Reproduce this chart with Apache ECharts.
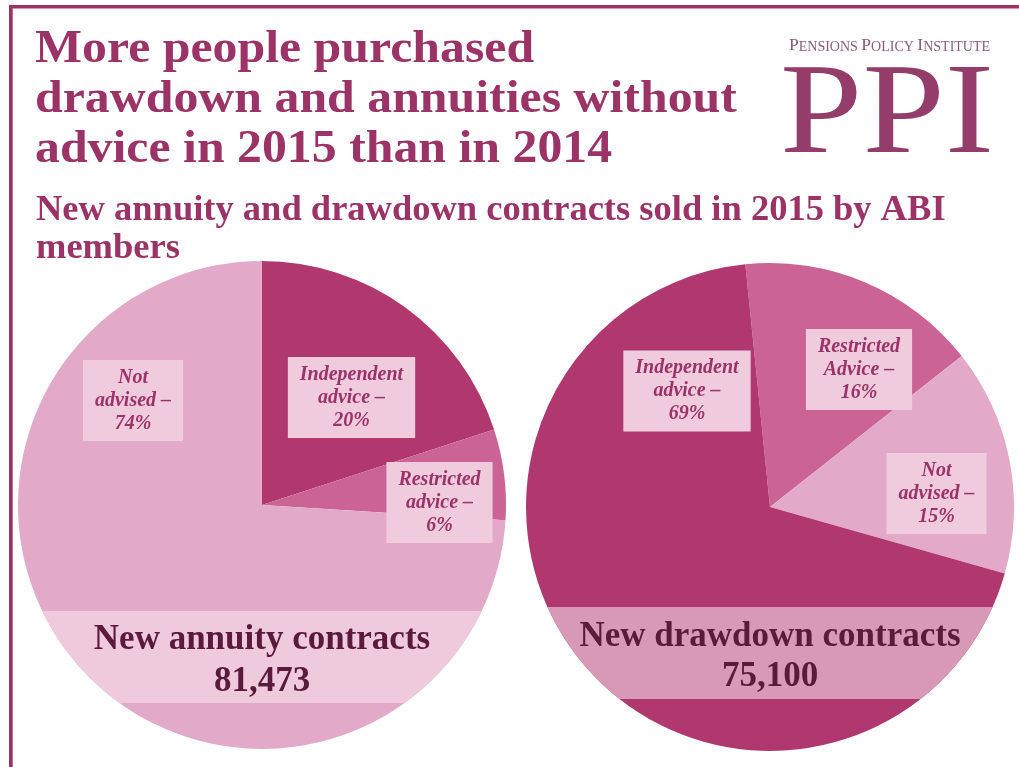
<!DOCTYPE html>
<html>
<head>
<meta charset="utf-8">
<script src="https://cdn.jsdelivr.net/npm/echarts@6/dist/echarts.min.js"></script>
<style>
  html, body { margin: 0; padding: 0; background: #ffffff; }
  #chart { width: 1019px; height: 767px; }
</style>
</head>
<body>
<div id="chart"></div>
<script>
// ---- Data ----
const annuityCategories = ['Independent advice', 'Restricted advice', 'Not advised'];
const annuityShares = [20, 6, 74];
const drawdownCategories = ['Restricted Advice', 'Not advised', 'Independent advice'];
const drawdownShares = [16, 15, 69];
const pieTitles = ['New annuity contracts', 'New drawdown contracts'];
const contractTotals = [81473, 75100];

const titleLines = ['More people purchased', 'drawdown and annuities without', 'advice in 2015 than in 2014'];
const subtitleLines = ['New annuity and drawdown contracts sold in 2015 by ABI', 'members'];

// ---- Styling ----
const PLUM = '#9b3366';
const LABEL_TEXT = '#9b3368';
const BAND_TEXT = '#5a1a3b';
const SERIF = '"Liberation Serif", "Times New Roman", serif';
const categoryColors = {
  'independent': '#b0386f',
  'restricted': '#cb6495',
  'not': '#e2aac8'
};
function colorFor(name) {
  return categoryColors[name.split(' ')[0].toLowerCase()];
}

// Pie geometry (pixels)
const R = 244;
const pies = [
  { cx: 262, cy: 505, startAngle: 90,   band: [106, 198], bandColor: '#efcadd', textY: [135, 177] },
  { cx: 770, cy: 507, startAngle: 95.8, band: [100, 192], bandColor: '#d899b8', textY: [130, 170] }
];
// Label box centres relative to each pie centre
const labelOffsets = [
  [[89.5, -107.5], [177.5, -2.5], [-129, -104.5]],
  [[89, -137.5], [166.5, -13.5], [-83, -116]]
];

function buildData(cats, vals) {
  return cats.map((c, i) => ({ name: c, value: vals[i], itemStyle: { color: colorFor(c) } }));
}

function labelFormatter(p) {
  const words = p.name.split(' ');
  return words[0] + '\n' + words.slice(1).join(' ') + ' \u2013\n' + p.value + '%';
}

function pieSeries(idx, cats, vals) {
  const g = pies[idx];
  return {
    type: 'pie',
    center: [g.cx, g.cy],
    radius: [0, R],
    startAngle: g.startAngle,
    clockwise: true,
    avoidLabelOverlap: false,
    silent: true,
    emphasis: { disabled: true },
    itemStyle: { borderWidth: 0 },
    labelLine: { show: false },
    label: {
      show: true,
      position: 'inside',
      formatter: labelFormatter,
      fontFamily: SERIF,
      fontStyle: 'italic',
      fontWeight: 'bold',
      fontSize: 20,
      lineHeight: 23,
      color: LABEL_TEXT,
      align: 'center',
      backgroundColor: '#efcbdd',
      padding: [6, 12, 6, 12]
    },
    labelLayout: function (params) {
      const off = labelOffsets[idx][params.dataIndex];
      return { x: g.cx + off[0], y: g.cy + off[1], align: 'center', verticalAlign: 'middle' };
    },
    data: buildData(cats, vals)
  };
}

// Horizontal band clipped to the pie's circle
function bandPolygon(g) {
  const pts = [];
  const y0 = g.band[0], y1 = g.band[1];
  for (let dy = y0; dy <= y1; dy += 1) {
    pts.push([g.cx + Math.sqrt(Math.max(0, R * R - dy * dy)), g.cy + dy]);
  }
  for (let dy = y1; dy >= y0; dy -= 1) {
    pts.push([g.cx - Math.sqrt(Math.max(0, R * R - dy * dy)), g.cy + dy]);
  }
  return pts;
}

const graphics = [];
// Slide frame
graphics.push({ type: 'rect', shape: { x: 9, y: 5, width: 1010, height: 3.5 }, style: { fill: PLUM }, z: 20 });
graphics.push({ type: 'rect', shape: { x: 9, y: 5, width: 3.7, height: 762 }, style: { fill: PLUM }, z: 20 });

// Headline
const titleY = [50, 100, 150];
titleLines.forEach((t, i) => {
  graphics.push({
    type: 'text', x: 35, y: titleY[i], z: 20, scaleX: 1.06,
    style: { text: t, font: 'bold 47px ' + SERIF, fill: PLUM, align: 'left', verticalAlign: 'middle' }
  });
});
// Sub-heading
const subY = [210.5, 248.5];
subtitleLines.forEach((t, i) => {
  graphics.push({
    type: 'text', x: 36, y: subY[i], z: 20,
    style: { text: t, font: 'bold 36.5px ' + SERIF, fill: PLUM, align: 'left', verticalAlign: 'middle' }
  });
});

// Logo
graphics.push({
  type: 'text', x: 789, y: 44, z: 21,
  style: {
    text: '{b|P}{s|ENSIONS} {b|P}{s|OLICY} {b|I}{s|NSTITUTE}',
    align: 'left', verticalAlign: 'middle',
    rich: {
      b: { fontFamily: SERIF, fontSize: 17.5, fill: '#8a5c78', verticalAlign: 'bottom', lineHeight: 20 },
      s: { fontFamily: SERIF, fontSize: 14, fill: '#8a5c78', verticalAlign: 'bottom', lineHeight: 20 }
    },
    fontFamily: SERIF, fontSize: 14, fill: '#8a5c78'
  }
});
graphics.push({
  type: 'text', x: 780, y: 117.5, z: 20, scaleX: 1.14,
  style: { text: 'PPI', font: '130px ' + SERIF, fill: '#943c6a', align: 'left', verticalAlign: 'middle' }
});

// Bands with contract totals
pies.forEach((g, i) => {
  graphics.push({ type: 'polygon', shape: { points: bandPolygon(g) }, style: { fill: g.bandColor }, z: 10 });
  graphics.push({
    type: 'text', x: g.cx, y: g.cy + g.textY[0], z: 11,
    style: { text: pieTitles[i], font: 'bold 35px ' + SERIF, fill: BAND_TEXT, align: 'center', verticalAlign: 'middle' }
  });
  graphics.push({
    type: 'text', x: g.cx, y: g.cy + g.textY[1], z: 11,
    style: { text: contractTotals[i].toLocaleString('en-US'), font: 'bold 35px ' + SERIF, fill: BAND_TEXT, align: 'center', verticalAlign: 'middle' }
  });
});

const chart = echarts.init(document.getElementById('chart'), null, { renderer: 'canvas' });
chart.setOption({
  backgroundColor: '#ffffff',
  animation: false,
  series: [
    pieSeries(0, annuityCategories, annuityShares),
    pieSeries(1, drawdownCategories, drawdownShares)
  ],
  graphic: { elements: graphics }
});
</script>
</body>
</html>
